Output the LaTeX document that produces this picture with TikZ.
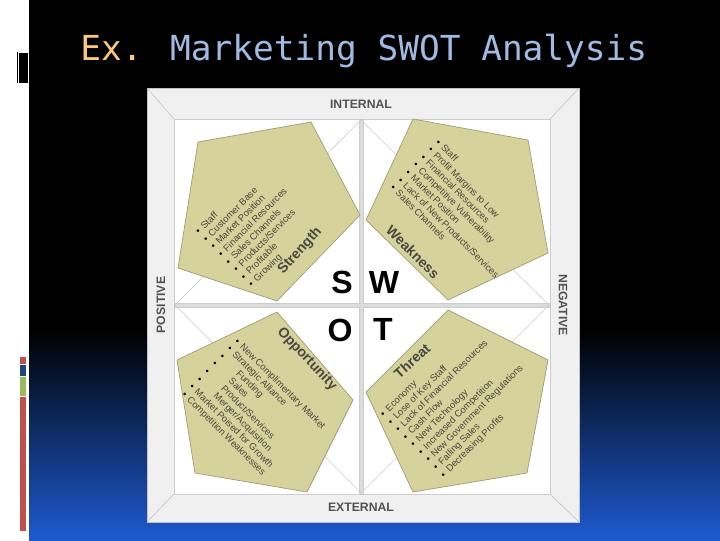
\documentclass[tikz,border=0pt]{standalone}
\usepackage{fontspec}
\setmainfont{Liberation Sans}
\newfontfamily\titlefont{DejaVu Sans Mono}
\usetikzlibrary{calc}

\definecolor{exorange}{RGB}{250,200,120}
\definecolor{titleblue}{RGB}{160,186,226}
\definecolor{slideblue}{RGB}{30,90,208}
\definecolor{barred}{RGB}{192,80,77}
\definecolor{barblue}{RGB}{31,73,125}
\definecolor{bargreen}{RGB}{155,187,89}
\definecolor{framegray}{RGB}{240,240,240}
\definecolor{framelinec}{RGB}{195,195,195}
\definecolor{quadline}{RGB}{205,205,205}
\definecolor{pentfill}{RGB}{214,210,155}
\definecolor{pentline}{RGB}{160,156,120}
\definecolor{pentext}{RGB}{72,72,64}

\newcommand{\swotbullet}{{\color{black}\textbullet}\hspace{0.45em}}

\tikzset{
  pent/.style={fill=pentfill,draw=pentline,line width=0.5pt},
  itemlist/.style={inner sep=0pt,align=left,text=pentext,font=\fontsize{6.7}{7.6}\selectfont},
  pentlabel/.style={inner sep=0pt,text=pentext,font=\bfseries\fontsize{10}{12}\selectfont},
  bigletter/.style={inner sep=0pt,font=\bfseries\fontsize{22.8}{26}\selectfont},
  axislabel/.style={inner sep=0pt,text=black!68,font=\bfseries\fontsize{8.7}{10}\selectfont}
}

\begin{document}
\begin{tikzpicture}[x=0.025cm,y=-0.025cm]
        \useasboundingbox (0,0) rectangle (720,540);

        % Slide background
        \fill[white] (0,0) rectangle (29,540);
        \fill[black] (29,0) rectangle (720,330);
        \shade[top color=black,bottom color=slideblue] (29,329.5) rectangle (720,540);

        % Left side marks
        \draw[black,line width=0.7pt] (17.5,52) -- (17.5,83);
        \fill[black] (19,53) rectangle (28,83);
        \fill[barred] (20,357) rectangle (26,364);
        \fill[barblue] (20,365) rectangle (26,376);
        \fill[bargreen] (20,377) rectangle (26,396);
        \fill[barred] (20,397) rectangle (26,531);

        % Title
        \node[anchor=base west,inner sep=0pt,font=\titlefont\fontsize{24.5}{30}\selectfont] (title) at (80,60)
            {\textcolor{exorange}{Ex.} \textcolor{titleblue}{Marketing SWOT Analysis}};

        % ================== SWOT frame ==================
        \filldraw[fill=framegray,draw=framelinec] (147,88) rectangle (579,522);
        \filldraw[fill=quadline!70,draw=framelinec] (174,119) rectangle (550,494);
        \draw[framelinec] (147,88) -- (174,119);
        \draw[framelinec] (579,88) -- (550,119);
        \draw[framelinec] (147,522) -- (174,494);
        \draw[framelinec] (579,522) -- (550,494);

        % Quadrants
        \filldraw[fill=white,draw=quadline] (174,119) rectangle (359,303);
        \filldraw[fill=white,draw=quadline] (363,119) rectangle (550,303);
        \filldraw[fill=white,draw=quadline] (174,307) rectangle (359,494);
        \filldraw[fill=white,draw=quadline] (363,307) rectangle (550,494);

        % Diamond guide lines
        \draw[quadline] (175,305) -- (361,120) -- (549,305) -- (361,493) -- cycle;

        % Side labels
        \node[axislabel] (internal) at (361,104) {INTERNAL};
        \node[axislabel] (external) at (361,507) {EXTERNAL};
        \node[axislabel,rotate=90] (positive) at (161,305) {POSITIVE};
        \node[axislabel,rotate=-90] (negative) at (563,305) {NEGATIVE};

        % Pentagons
        \filldraw[pent] (198,142) -- (311,122) -- (360,215) -- (277,301) -- (178,268) -- cycle;
        \filldraw[pent] (413,119) -- (528,140) -- (548,253) -- (448,300) -- (366,220) -- cycle;
        \filldraw[pent] (277,312) -- (353,400) -- (307,492) -- (195,473) -- (177,360) -- cycle;
        \filldraw[pent] (448,310) -- (548,360) -- (527,473) -- (413,492) -- (366,392) -- cycle;

        % Big letters
        \node[bigletter] (sletter) at (342,282) {S};
        \node[bigletter] (wletter) at (384,282) {W};
        \node[bigletter] (oletter) at (340,330) {O};
        \node[bigletter] (tletter) at (383,329) {T};

        % Pentagon titles
        \node[pentlabel,rotate=48] (strength) at (300,251) {Strength};
        \node[pentlabel,rotate=-45] (weakness) at (413,252) {Weakness};
        \node[pentlabel,rotate=-47] (opportunity) at (307,359) {Opportunity};
        \node[pentlabel,rotate=42] (threat) at (412,361) {Threat};

        % Lists
        \node[itemlist,rotate=45,anchor=north west] (slist) at (194,230)
            {\swotbullet Staff\\\swotbullet Customer Base\\\swotbullet Market Position\\\swotbullet Financial Resources\\
             \swotbullet Sales Channels\\\swotbullet Products/Services\\\swotbullet Profitable\\\swotbullet Growing};
        \node[itemlist,rotate=-45,anchor=north west] (wlist) at (440,138)
            {\swotbullet Staff\\\swotbullet Profit Margins to Low\\\swotbullet Financial Resources\\\swotbullet Competitive Vulnerability\\
             \swotbullet Market Position\\\swotbullet Lack of New Products/Services\\\swotbullet Sales Channels};
        \node[itemlist,rotate=-45,anchor=north west] (olist) at (239,337)
            {\swotbullet New Complimentary Market\\\swotbullet Strategic Alliance\\\swotbullet \hspace{1.7em}Funding\\\swotbullet \hspace{1.7em}Sales\\
             \swotbullet \hspace{1.7em}Product/Services\\\swotbullet \hspace{1.7em}Merger/Acquisition\\\swotbullet Market Poised for Growth\\\swotbullet Competition Weaknesses};
        \node[itemlist,rotate=45,anchor=north west] (tlist) at (379,413)
            {\swotbullet Economy\\\swotbullet Lose of Key Staff\\\swotbullet Lack of Financial Resources\\\swotbullet Cash Flow\\
             \swotbullet New Technology\\\swotbullet Increased Competition\\\swotbullet New Government Regulations\\\swotbullet Falling Sales\\
             \swotbullet Decreasing Profits};
\end{tikzpicture}
\end{document}
